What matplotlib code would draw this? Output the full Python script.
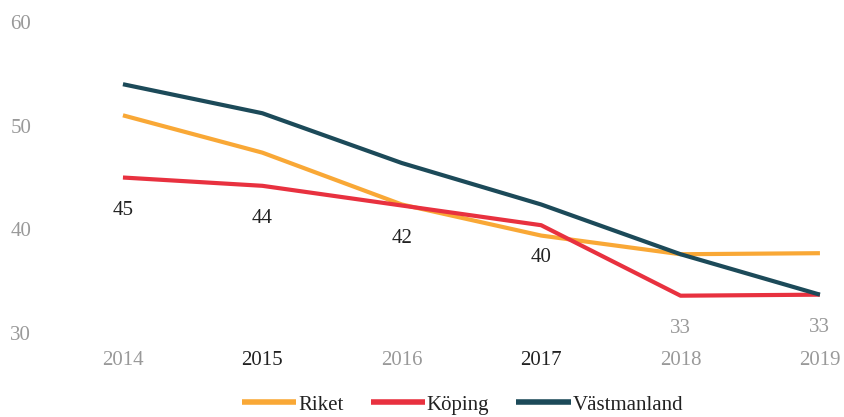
import matplotlib.pyplot as plt

# ----- DATA -----
years = [2014, 2015, 2016, 2017, 2018, 2019]
riket = [51.0, 47.4, 42.4, 39.4, 37.6, 37.7]
koping = [45.0, 44.2, 42.3, 40.4, 33.6, 33.7]
vastmanland = [54.0, 51.2, 46.4, 42.4, 37.6, 33.7]
koping_labels = ["45", "44", "42", "40", "33", "33"]
label_colors = ["#222222", "#222222", "#222222", "#222222", "#999999", "#999999"]
year_colors = ["#999999", "#222222", "#999999", "#222222", "#999999", "#999999"]
y_ticks = [30, 40, 50, 60]

# ----- STYLE -----
plt.rcParams['font.family'] = ['Liberation Serif', 'DejaVu Serif']
FS = 15
C_RIKET = "#F9A836"
C_KOPING = "#E8313F"
C_VAST = "#1C4A59"
GREY = "#999999"

fig = plt.figure(figsize=(8.44, 4.17), dpi=100)
ax = fig.add_axes([0.0796, 0.2014, 0.9084, 0.7458])

ax.plot(years, riket, color=C_RIKET, lw=3, label="Riket", solid_capstyle='butt')
ax.plot(years, koping, color=C_KOPING, lw=3, label="Köping", solid_capstyle='butt')
ax.plot(years, vastmanland, color=C_VAST, lw=3, label="Västmanland", solid_capstyle='butt')

for x, y, txt, c in zip(years, koping, koping_labels, label_colors):
    ax.annotate(txt, (x, y), xytext=(0, -23.5), textcoords='offset points',
                ha='center', va='center', fontsize=FS, color=c)

ax.set_xlim(2013.6, 2019.1)
ax.set_ylim(30, 60)
ax.set_xticks(years)
ax.set_xticklabels([str(y) for y in years], fontsize=FS)
for lab, c in zip(ax.get_xticklabels(), year_colors):
    lab.set_color(c)
ax.set_yticks(y_ticks)
ax.set_yticklabels([str(v) for v in y_ticks], fontsize=FS, color=GREY)
ax.tick_params(axis='x', length=0, pad=13)
ax.tick_params(axis='y', length=0, pad=26)
for s in ax.spines.values():
    s.set_visible(False)

leg = fig.legend(loc='center', bbox_to_anchor=(0.548, 0.029), ncol=3, frameon=False,
                 fontsize=FS, handlelength=2.6, handletextpad=0.1, columnspacing=1.3)
for line in leg.get_lines():
    line.set_linewidth(4)
for t in leg.get_texts():
    t.set_color("#222222")

fig.savefig("out.png", dpi=100)
